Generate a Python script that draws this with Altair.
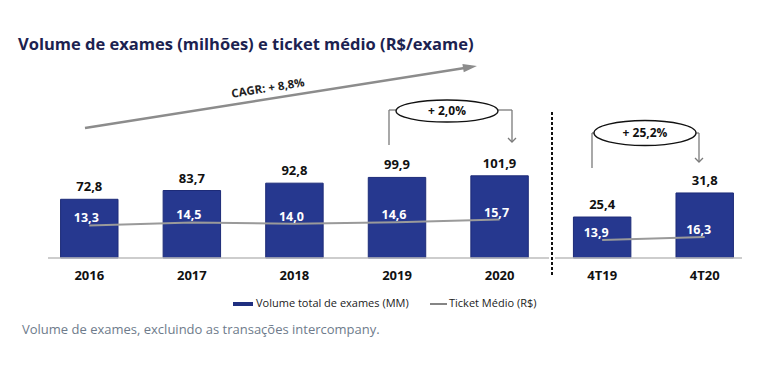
import altair as alt
import pandas as pd

# ---------------- data ----------------
categories = ["2016", "2017", "2018", "2019", "2020", "4T19", "4T20"]
periods = ["ano", "ano", "ano", "ano", "ano", "tri", "tri"]
volume = [72.8, 83.7, 92.8, 99.9, 101.9, 25.4, 31.8]
ticket = [13.3, 14.5, 14.0, 14.6, 15.7, 13.9, 16.3]

title_text = "Volume de exames (milhões) e ticket médio (R$/exame)"
cagr_text = "CAGR: + 8,8%"
growth_year_text = "+ 2,0%"
growth_quarter_text = "+ 25,2%"
legend_volume = "Volume total de exames (MM)"
legend_ticket = "Ticket Médio (R$)"
footnote = "Volume de exames, excluindo as transações intercompany."

def br(v):
    return f"{v:.1f}".replace(".", ",")

df = pd.DataFrame({
    "categoria": categories,
    "periodo": periods,
    "volume": volume,
    "ticket": ticket,
    "vol_lbl": [br(v) for v in volume],
    "tkt_lbl": [br(v) for v in ticket],
})

# ---------------- styles ----------------
BAR = "#26388f"
LINE = "#9a9a9a"
GRAY = "#7a7a7a"
FONT = "Open Sans"

x_enc = alt.X(
    "categoria:N",
    sort=categories,
    scale=alt.Scale(domain=categories, paddingInner=0.44, paddingOuter=0.22),
    axis=alt.Axis(title=None, labelAngle=0, ticks=False, domain=False, grid=False,
                  labelPadding=11, labelFont=FONT, labelFontWeight="bold",
                  labelFontSize=13, labelColor="#111111"),
)

ano = alt.datum.periodo == "ano"
tri = alt.datum.periodo == "tri"

vol_ano_scale = alt.Scale(domain=[0, 310])
vol_tri_min = 14.5
vol_tri_scale = alt.Scale(domain=[vol_tri_min, 81], zero=False)
tkt_ano_scale = alt.Scale(domain=[0, 102])
tkt_tri_scale = alt.Scale(domain=[0, 194])

base = alt.Chart(df)

bars_ano = base.transform_filter(ano).mark_bar(color=BAR, stroke="#1d2b78", strokeWidth=1).encode(
    x=x_enc, y=alt.Y("volume:Q", scale=vol_ano_scale, axis=None))
vlbl_ano = base.transform_filter(ano).mark_text(
    font=FONT, fontWeight="bold", fontSize=13, color="#111111", baseline="middle", dy=-12).encode(
    x=x_enc, y=alt.Y("volume:Q", scale=vol_ano_scale, axis=None), text="vol_lbl:N")

bars_tri = base.transform_filter(tri).mark_bar(color=BAR, stroke="#1d2b78", strokeWidth=1).encode(
    x=x_enc, y=alt.Y("volume:Q", scale=vol_tri_scale, axis=None), y2=alt.datum(vol_tri_min))
vlbl_tri = base.transform_filter(tri).mark_text(
    font=FONT, fontWeight="bold", fontSize=13, color="#111111", baseline="middle", dy=-12).encode(
    x=x_enc, y=alt.Y("volume:Q", scale=vol_tri_scale, axis=None), text="vol_lbl:N")

line_ano = base.transform_filter(ano).mark_line(color=LINE, strokeWidth=2).encode(
    x=x_enc, y=alt.Y("ticket:Q", scale=tkt_ano_scale, axis=None))
tlbl_ano = base.transform_filter(ano).mark_text(
    font=FONT, fontWeight="bold", fontSize=12.5, color="white", baseline="middle", dy=-7, dx=-3).encode(
    x=x_enc, y=alt.Y("ticket:Q", scale=tkt_ano_scale, axis=None), text="tkt_lbl:N")

line_tri = base.transform_filter(tri).mark_line(color=LINE, strokeWidth=2).encode(
    x=x_enc, y=alt.Y("ticket:Q", scale=tkt_tri_scale, axis=None))
tlbl_tri = base.transform_filter(tri).mark_text(
    font=FONT, fontWeight="bold", fontSize=12.5, color="white", baseline="middle", dy=-7, dx=-6).encode(
    x=x_enc, y=alt.Y("ticket:Q", scale=tkt_tri_scale, axis=None), text="tkt_lbl:N")

# ---------------- annotations ----------------
one = alt.Data(values=[{"k": 0}])

def rule(x1, y1, x2, y2, **kw):
    return alt.Chart(one).mark_rule(**kw).encode(
        x=alt.value(x1), y=alt.value(y1), x2=alt.value(x2), y2=alt.value(y2))

def label(x, y, txt, **kw):
    return alt.Chart(one).mark_text(text=txt, **kw).encode(x=alt.value(x), y=alt.value(y))

def point(x, y, **kw):
    return alt.Chart(one).mark_point(**kw).encode(x=alt.value(x), y=alt.value(y))

def ellipse_path(r):
    return f"M -1 0 A 1 {r} 0 1 1 1 0 A 1 {r} 0 1 1 -1 0 Z"

chevron = "M -1 -0.5 L 0 0.5 L 1 -0.5"
arrowhead = "M -1 -0.6 L 1 0 L -1 0.6 Z"

annotations = [
    label(-20, 37, title_text, font=FONT, fontWeight="bold", fontSize=16.5,
          color="#1c2250", align="left", baseline="middle"),
    # CAGR arrow
    rule(47, 120, 433, 59, color="#8c8c8c", strokeWidth=2.5),
    point(432, 59, shape=arrowhead, filled=True, size=196, angle=351, color="#8c8c8c", opacity=1),
    label(230, 81, cagr_text, font=FONT, fontWeight="bold", fontSize=11.5, color="#222222",
          angle=351, align="center", baseline="middle"),
    # bracket 2019 -> 2020
    rule(351, 102, 351, 137, color=GRAY, strokeWidth=1.3),
    rule(351, 102, 358, 102, color=GRAY, strokeWidth=1.3),
    rule(460, 102, 474, 102, color=GRAY, strokeWidth=1.3),
    rule(474, 102, 474, 134, color=GRAY, strokeWidth=1.3),
    point(474, 132, shape=chevron, filled=False, size=64, color=GRAY, strokeWidth=1.3, opacity=1),
    point(409, 103, shape=ellipse_path(0.216), filled=True, fill="white", stroke="#111111",
          strokeWidth=1.3, size=102 * 102, opacity=1),
    label(409, 103, growth_year_text, font=FONT, fontWeight="bold", fontSize=12,
          color="#111111", align="center", baseline="middle"),
    # bracket 4T19 -> 4T20
    rule(554, 125, 554, 160, color=GRAY, strokeWidth=1.3),
    rule(554, 125, 556, 125, color=GRAY, strokeWidth=1.3),
    rule(658, 125, 661, 125, color=GRAY, strokeWidth=1.3),
    rule(661, 125, 661, 154, color=GRAY, strokeWidth=1.3),
    point(661, 152, shape=chevron, filled=False, size=64, color=GRAY, strokeWidth=1.3, opacity=1),
    point(607, 125, shape=ellipse_path(0.245), filled=True, fill="white", stroke="#111111",
          strokeWidth=1.3, size=102 * 102, opacity=1),
    label(607, 125, growth_quarter_text, font=FONT, fontWeight="bold", fontSize=12,
          color="#111111", align="center", baseline="middle"),
    # separator and baselines
    rule(514, 104, 514, 269, color="#111111", strokeWidth=2, strokeDash=[3, 2]),
    rule(10, 250, 511, 250, color="#bdbdbd", strokeWidth=1.5),
    rule(517, 250, 704, 250, color="#bdbdbd", strokeWidth=1.5),
    # legend
    alt.Chart(one).mark_rect(color="#1f2f80").encode(
        x=alt.value(195), x2=alt.value(215), y=alt.value(294), y2=alt.value(298)),
    label(218, 296, legend_volume, font=FONT, fontSize=11, color="#222222",
          align="left", baseline="middle"),
    rule(392, 296, 409, 296, color="#333333", strokeWidth=1.2),
    label(411, 296, legend_ticket, font=FONT, fontSize=11, color="#222222",
          align="left", baseline="middle"),
    # footnote
    label(-16, 322, footnote, font=FONT, fontSize=13, color="#6e7b8b",
          align="left", baseline="middle"),
]

chart = alt.layer(
    bars_ano, bars_tri, line_ano, line_tri, vlbl_ano, vlbl_tri, tlbl_ano, tlbl_tri,
    *annotations
).resolve_scale(y="independent").properties(
    width=718, height=250,
    padding={"left": 30, "top": 0, "right": 4, "bottom": 106},
    autosize=alt.AutoSizeParams(type="none"),
).configure_view(stroke=None)

chart.save("out.html", embed_options={"renderer": "svg", "actions": False})
